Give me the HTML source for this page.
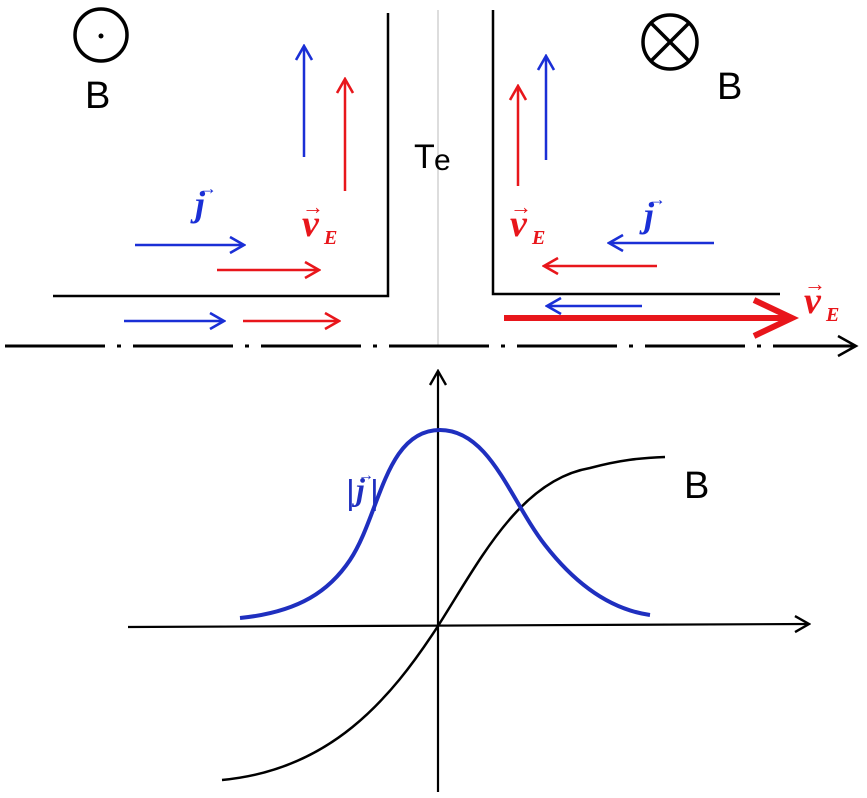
<!DOCTYPE html>
<html><head><meta charset="utf-8"><style>
html,body{margin:0;padding:0;background:#fff}
svg{display:block}
text{font-family:"Liberation Sans",sans-serif}
.m{font-family:"Liberation Serif",serif;font-style:italic;font-weight:bold}
</style></head><body>
<svg width="867" height="798" viewBox="0 0 867 798" xmlns="http://www.w3.org/2000/svg">
<defs>
<marker id="ab" viewBox="0 0 20 20" refX="18" refY="10" markerWidth="20" markerHeight="20" markerUnits="userSpaceOnUse" orient="auto"><path d="M4,2 L18,10 L4,18" fill="none" stroke="#1a2fd6" stroke-width="2.6"/></marker>
<marker id="ar" viewBox="0 0 20 20" refX="18" refY="10" markerWidth="20" markerHeight="20" markerUnits="userSpaceOnUse" orient="auto"><path d="M4,2 L18,10 L4,18" fill="none" stroke="#e8161b" stroke-width="2.6"/></marker>
<marker id="ak" viewBox="0 0 20 20" refX="18" refY="10" markerWidth="20" markerHeight="20" markerUnits="userSpaceOnUse" orient="auto"><path d="M4,2 L18,10 L4,18" fill="none" stroke="#000" stroke-width="2.4"/></marker>
</defs>
<line x1="438" y1="10" x2="438" y2="346" stroke="#bbb" stroke-width="1"/>
<polyline points="388,13 388,296 53,296" fill="none" stroke="#000" stroke-width="2.5"/>
<polyline points="493,10 493,294 780,294" fill="none" stroke="#000" stroke-width="2.5"/>
<line x1="5" y1="346" x2="855" y2="346" stroke="#000" stroke-width="3" stroke-dasharray="100,12,4,12"/>
<path d="M838,336 L856,346 L838,356" fill="none" stroke="#000" stroke-width="2.5"/>
<circle cx="101" cy="35" r="26" fill="none" stroke="#000" stroke-width="3.5"/>
<circle cx="101" cy="36" r="2.5" fill="#000"/>
<text x="85" y="108" font-size="38">B</text>
<circle cx="670" cy="42" r="27" fill="none" stroke="#000" stroke-width="3.5"/>
<line x1="651" y1="23" x2="689" y2="61" stroke="#000" stroke-width="3.5"/>
<line x1="689" y1="23" x2="651" y2="61" stroke="#000" stroke-width="3.5"/>
<text x="717" y="99" font-size="38">B</text>
<text x="414" y="168" font-size="34">T</text><text x="434" y="170" font-size="30">e</text>
<!-- left arrows -->
<line x1="304" y1="157" x2="304" y2="46" stroke="#1a2fd6" stroke-width="2.5" marker-end="url(#ab)"/>
<line x1="345" y1="191" x2="345" y2="79" stroke="#e8161b" stroke-width="2.5" marker-end="url(#ar)"/>
<line x1="135" y1="245" x2="244" y2="245" stroke="#1a2fd6" stroke-width="2.5" marker-end="url(#ab)"/>
<line x1="217" y1="270" x2="319" y2="270" stroke="#e8161b" stroke-width="2.5" marker-end="url(#ar)"/>
<line x1="124" y1="321" x2="224" y2="321" stroke="#1a2fd6" stroke-width="2.5" marker-end="url(#ab)"/>
<line x1="243" y1="321" x2="339" y2="321" stroke="#e8161b" stroke-width="2.5" marker-end="url(#ar)"/>
<text x="195" y="216" font-size="36" class="m" fill="#1a2fd6">j</text><text x="199" y="194" font-size="18" fill="#1a2fd6">→</text>
<text x="302" y="236" font-size="38" class="m" fill="#e8161b">v</text><text x="324" y="244" font-size="20" class="m" fill="#e8161b">E</text><text x="302" y="214" font-size="22" fill="#e8161b">→</text>
<!-- right arrows -->
<line x1="518" y1="186" x2="518" y2="86" stroke="#e8161b" stroke-width="2.5" marker-end="url(#ar)"/>
<line x1="546" y1="160" x2="546" y2="56" stroke="#1a2fd6" stroke-width="2.5" marker-end="url(#ab)"/>
<line x1="714" y1="243" x2="609" y2="243" stroke="#1a2fd6" stroke-width="2.5" marker-end="url(#ab)"/>
<line x1="657" y1="266" x2="544" y2="266" stroke="#e8161b" stroke-width="2.5" marker-end="url(#ar)"/>
<line x1="642" y1="306" x2="547" y2="306" stroke="#1a2fd6" stroke-width="2.5" marker-end="url(#ab)"/>
<line x1="504" y1="318" x2="790" y2="318" stroke="#e8161b" stroke-width="6"/>
<path d="M754,300 L792,318 L754,336" fill="none" stroke="#e8161b" stroke-width="6"/>
<text x="644" y="227" font-size="36" class="m" fill="#1a2fd6">j</text><text x="648" y="205" font-size="18" fill="#1a2fd6">→</text>
<text x="510" y="236" font-size="38" class="m" fill="#e8161b">v</text><text x="532" y="244" font-size="20" class="m" fill="#e8161b">E</text><text x="510" y="214" font-size="22" fill="#e8161b">→</text>
<text x="804" y="313" font-size="38" class="m" fill="#e8161b">v</text><text x="826" y="321" font-size="20" class="m" fill="#e8161b">E</text><text x="804" y="291" font-size="22" fill="#e8161b">→</text>
<!-- graph axes -->
<line x1="438" y1="792" x2="438" y2="371" stroke="#000" stroke-width="2.2" marker-end="url(#ak)"/>
<line x1="128" y1="627" x2="809" y2="624" stroke="#000" stroke-width="2.2" marker-end="url(#ak)"/>
<path d="M222,780 C330,770 390,700 438,626 C480,560 520,480 590,468 C620,460 640,458 665,457" fill="none" stroke="#000" stroke-width="2.5"/>
<path d="M240,618 C300,612 330,590 350,560 C380,515 385,430 440,430 C490,430 510,500 545,545 C580,590 615,610 650,615" fill="none" stroke="#1f2fbf" stroke-width="4"/>
<text x="346" y="504" font-size="34" fill="#1f2fbf">|</text><text x="356" y="500" font-size="32" class="m" fill="#1f2fbf">j</text><text x="358" y="480" font-size="16" fill="#1f2fbf">→</text><text x="370" y="504" font-size="34" fill="#1f2fbf">|</text>
<text x="684" y="498" font-size="38">B</text>
</svg>
</body></html>
